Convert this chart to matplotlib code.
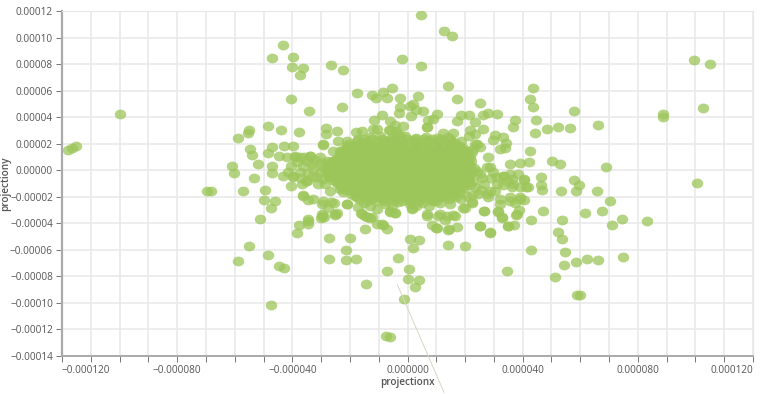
import matplotlib
matplotlib.use("Agg")
import matplotlib.pyplot as plt
from matplotlib.markers import MarkerStyle
from matplotlib.ticker import FuncFormatter
from matplotlib.transforms import Affine2D

# values, in units of 1e-5
left_points = [
    (-11.8, 1.5), (-11.67, 1.7), (-11.5, 1.8), (-9.97, 4.27), (-5.87, 2.41), (-5.53, 2.81), (-5.5, 3.0),
    (-4.83, 3.34), (-4.41, 3.0), (-3.78, 2.86), (-4.34, 9.42), (-4.72, 8.47), (-3.97, 8.54), (-4.0, 7.81),
    (-3.62, 7.74), (-3.75, 7.21), (-2.64, 7.96), (-2.24, 7.54), (-1.75, 5.85), (-4.05, 5.4), (-3.41, 4.45),
    (-2.26, 4.8), (-1.22, 5.68), (-1.09, 5.43), (-1.15, 3.82), (-2.83, 3.22), (-2.83, 2.71), (-2.46, 2.99),
    (-1.79, 2.89), (-1.59, 2.94), (-1.21, 3.07), (-1.07, 3.12), (-5.46, 1.61), (-5.4, 1.18), (-4.69, 1.78),
    (-4.85, 1.33), (-4.29, 1.81), (-3.99, 1.86), (-5.2, 0.5), (-6.1, 0.33), (-6.03, -0.2), (-5.32, -0.6),
    (-4.72, 0.35), (-4.7, -0.23), (-5.71, -1.58), (-6.95, -1.6), (-6.82, -1.56), (-4.95, -1.48), (-4.48, 1.1),
    (-4.2, 0.98), (-3.91, 0.98), (-4.34, -0.4), (-4.14, -0.15), (-3.97, -0.53), (-4.03, -1.18), (-3.68, -1.03),
    (-3.5, -0.78), (-3.39, 1.1), (-2.95, 1.93), (-3.62, -1.9), (-5.0, -2.26), (-4.6, -2.31), (-4.73, -2.81),
    (-5.12, -3.7), (-5.52, -5.7), (-5.87, -6.81), (-4.86, -6.36), (-4.47, -7.19), (-4.3, -7.34), (-4.73, -10.15),
    (-3.78, -4.15), (-3.84, -4.7), (-3.46, -3.69), (-3.44, -4.05), (-3.0, -3.57), (-2.9, -3.52), (-2.98, -3.27),
    (-2.52, -3.39), (-2.46, -3.24), (-2.71, -5.13), (-1.99, -5.13), (-2.13, -6.0), (-2.74, -6.71), (-2.14, -6.76),
    (-1.79, -6.68), (-1.43, -8.54), (-2.09, -2.51), (-1.63, -3.19), (-1.48, -3.44), (-1.3, -3.57), (-1.48, -4.4),
    (-1.05, -4.07), (-3.44, -2.26), (-2.98, -2.56), (-2.57, -2.44), (-2.75, -2.81),
]

right_top_points = [
    (0.46, 11.68), (1.27, 10.53), (1.56, 10.15), (-0.19, 8.37), (0.47, 7.86), (1.41, 6.33), (-0.55, 6.2),
    (-0.84, 5.9), (-0.7, 5.43), (1.72, 5.38), (2.51, 5.08), (4.36, 6.18), (4.24, 5.35), (4.37, 4.75), (5.8, 4.47),
    (6.61, 3.44), (8.86, 4.25), (8.88, 4.02), (10.26, 4.72), (9.96, 8.29), (10.5, 7.99), (10.06, -0.93),
    (4.48, 3.79), (3.74, 3.82), (3.66, 3.29), (4.44, 2.79), (4.85, 3.09), (5.23, 3.27), (5.64, 3.19), (3.1, 4.25),
    (2.78, 4.3), (2.63, 4.2), (2.15, 4.17), (1.86, 4.2), (1.72, 3.74), (2.36, 3.64), (1.01, 4.25), (0.9, 3.87),
    (0.7, 3.77), (0.68, 3.24), (0.37, 5.58), (-0.25, 5.43), (-0.26, 4.8), (-0.3, 4.35), (0.12, 4.12), (0.2, 5.0),
    (0.3, 4.55), (0.53, 4.5), (0.09, 4.87), (-0.89, 4.2), (-0.61, 3.74), (-0.43, 3.44), (-0.14, 3.37),
    (-0.63, 3.04), (-0.4, 2.94), (-0.26, 2.69), (2.61, 3.12), (2.17, 3.04), (2.15, 2.61), (3.04, 2.66),
    (1.59, 2.79), (1.22, 2.79), (3.33, 2.49), (3.42, 2.06), (2.98, 2.29), (3.22, 1.61), (3.39, 1.66), (2.79, 0.98),
    (2.4, 1.98), (2.52, 1.73), (2.23, 1.36), (4.26, 1.48), (4.23, 0.63), (3.91, 0.53), (3.56, 0.48), (5.02, 0.68),
    (5.28, 0.5), (6.91, 0.23), (4.63, -0.53), (4.65, -1.08), (4.68, -1.51), (5.8, -0.7), (5.96, -1.13),
    (5.85, -1.53), (5.33, -1.53), (6.59, -1.53), (7.02, -2.31), (4.06, -0.7), (3.85, -0.28), (4.11, -1.28),
    (3.62, -1.28), (3.35, -0.4), (3.62, -0.65), (3.33, -1.08), (3.04, -1.53), (3.91, -2.03), (2.87, 0.23),
    (2.52, -0.28), (1.83, 0.85), (1.71, 1.61), (2.75, -1.78), (3.55, -2.03),
]

right_bottom_points = [
    (4.71, -3.07), (5.35, -3.77), (4.28, -3.77), (6.16, -3.19), (6.75, -3.11), (7.45, -3.64), (8.31, -3.79),
    (7.1, -4.15), (5.23, -4.65), (5.36, -5.2), (4.3, -6.03), (5.46, -6.18), (7.5, -6.53), (6.62, -6.78),
    (6.23, -6.71), (5.85, -6.91), (5.44, -7.16), (5.14, -8.07), (5.9, -9.37), (6.0, -9.42), (3.47, -7.61),
    (2.65, -3.07), (3.16, -3.12), (3.29, -3.57), (3.7, -4.12), (3.49, -4.2), (2.53, -4.2), (2.86, -4.72),
    (1.71, -4.27), (1.44, -4.45), (0.98, -4.32), (0.84, -4.15), (0.1, -5.15), (0.39, -5.23), (0.19, -5.88),
    (1.41, -5.6), (2.0, -5.7), (-0.32, -6.58), (-0.71, -7.56), (0.05, -7.44), (0.0, -8.22), (0.39, -8.24),
    (0.26, -8.82), (-0.12, -9.67), (-0.75, -12.51), (-0.61, -12.54), (-0.84, -4.12), (-0.7, -4.4), (-0.61, -3.11),
    (-0.45, -3.2), (0.14, -2.81), (0.67, -3.32), (1.13, -3.32), (1.59, -3.37), (1.3, -3.77), (2.0, -2.81),
    (2.23, -2.44), (3.22, -2.56), (3.87, -3.01), (3.76, -3.39), (3.74, -2.44), (4.03, -2.26),
]

# the crowded middle, wings and fringe
fringe_points = [
    (-3.91, 1.11), (-3.39, 1.11), (-3.04, 0.98), (-3.62, 0.35), (-2.93, 0.23), (-3.97, -0.4), (-3.51, -0.78),
    (-2.93, -0.65), (-2.69, -1.53), (-3.62, -1.91), (-3.27, -2.16), (-2.93, -2.29), (-2.64, -2.41), (-2.98, -3.42),
    (-3.45, -3.79), (-2.52, -3.29), (-2.11, -2.54), (-2.35, -1.41), (-2.58, -0.4), (-2.35, 1.48), (-2.41, 2.24),
    (-2.93, 1.98), (-3.74, 0.98), (-4.03, 0.35), (-3.27, 0.1), (-3.16, -0.53), (-2.81, 0.73), (-2.58, 1.48),
    (-2.11, 2.24), (-1.88, 1.73), (-1.71, 2.36), (-1.42, 1.98), (-1.59, -3.29), (-1.42, -3.54), (-1.25, -3.49),
    (-0.9, -4.05), (-0.61, -3.17), (-0.43, -3.24), (-1.07, -2.91), (-1.71, -2.79), (0.14, -2.91), (0.67, -3.42),
    (1.42, -4.47), (1.01, -4.35), (1.07, -3.42), (1.36, -3.42), (1.65, -3.42), (1.48, -2.54), (1.94, -2.84),
    (2.23, -2.41), (2.64, -3.04), (2.52, -4.2), (2.87, -4.67), (3.5, -4.17), (3.8, -3.29), (3.27, -3.54),
    (3.16, -3.04), (3.91, -2.16), (3.56, -2.29), (3.22, -2.16), (2.81, -2.04), (2.46, -1.78), (2.06, -1.91),
    (1.01, -2.04), (0.84, -2.29), (2.4, -0.03), (2.75, 0.23), (2.98, -0.15), (2.29, -0.78), (2.64, -1.03),
    (3.1, -1.03), (2.87, -1.53), (3.33, -0.4), (3.56, -0.28), (3.45, -0.78), (3.68, -1.03), (4.03, -0.65),
    (3.91, -1.28), (4.2, -1.28), (2.17, 0.98), (2.06, 1.48), (2.35, 1.98), (1.94, 0.35), (2.06, -0.53),
    (2.26, 1.6), (2.35, 2.74), (0.67, 3.24), (-0.6, 3.0), (-0.38, 2.74),
    (-3.6, 1.0), (-3.2, 0.8), (-3.5, 0.7), (-3.85, 0.6), (-3.3, 0.45), (-3.0, 0.55), (-3.45, -0.2), (-3.05, -0.15),
    (-3.75, -0.1), (-3.3, -0.5), (-2.85, -1.0), (-3.1, -1.05), (-3.7, -0.6), (2.6, -0.6), (2.9, -0.6), (3.1, -0.5),
    (2.35, -1.3), (2.55, -1.5), (2.25, -1.9),
]

core_points = [
    (-1.31, 2.47), (-0.96, 2.55), (-0.52, 2.42), (-0.08, 2.58), (0.31, 2.44), (0.64, 2.52), (1.03, 2.4), (1.41, 2.49),
    (-2.02, 1.98), (-1.63, 2.06), (-1.2, 1.93), (-0.81, 2.1), (-0.37, 1.96), (0.06, 2.07), (0.47, 1.91), (0.88, 2.03),
    (1.27, 1.95), (1.66, 2.08), (-2.27, 1.44), (-1.89, 1.37), (-1.5, 1.5), (-1.08, 1.41), (-0.66, 1.52), (-0.24, 1.36),
    (0.17, 1.49), (0.58, 1.4), (1.02, 1.53), (1.43, 1.38), (1.82, 1.46), (-2.5, 0.87), (-2.11, 0.96), (-1.71, 0.81),
    (-1.33, 0.93), (-0.93, 0.84), (-0.51, 0.97), (-0.11, 0.82), (0.33, 0.94), (0.74, 0.86), (1.16, 0.98), (1.57, 0.83),
    (1.93, 0.91), (-2.63, 0.33), (-2.24, 0.27), (-1.85, 0.39), (-1.44, 0.25), (-1.03, 0.36), (-0.64, 0.22), (-0.21, 0.41),
    (0.2, 0.28), (0.62, 0.37), (1.04, 0.24), (1.44, 0.4), (1.82, 0.29), (2.16, 0.36), (-2.56, -0.24), (-2.17, -0.31),
    (-1.76, -0.17), (-1.36, -0.29), (-0.97, -0.2), (-0.55, -0.33), (-0.14, -0.18), (0.26, -0.3), (0.69, -0.22),
    (1.1, -0.34), (1.5, -0.19), (1.9, -0.28), (2.22, -0.23), (-2.44, -0.86), (-2.03, -0.79), (-1.62, -0.91),
    (-1.22, -0.76), (-0.82, -0.88), (-0.4, -0.81), (0.0, -0.93), (0.43, -0.77), (0.85, -0.87), (1.26, -0.79),
    (1.66, -0.92), (2.04, -0.83), (-2.1, -1.37), (-1.71, -1.45), (-1.29, -1.33), (-0.88, -1.47), (-0.47, -1.35),
    (-0.06, -1.43), (0.36, -1.31), (0.77, -1.46), (1.19, -1.36), (1.58, -1.44), (1.96, -1.34), (-1.84, -1.95),
    (-1.41, -1.88), (-1.0, -2.0), (-0.59, -1.9), (-0.18, -2.03), (0.24, -1.87), (0.63, -1.98), (1.29, -1.92),
    (1.68, -2.01), (-1.52, -2.46), (-0.78, -2.52), (-0.33, -2.41), (0.09, -2.55), (0.52, -2.44), (1.12, -2.5),
]

# further passes over the middle, one row of x values per y
core_row_y = [2.2, 1.7, 1.15, 0.6, 0.05, -0.52, -1.1, -1.65, -2.2, -2.7,
              2.35, 1.85, 1.55, 1.25, 0.95, 0.7, 0.4, 0.15, -0.1, -0.4, -0.7, -0.95, -1.25, -1.5, -1.8, -2.05, -2.35]
core_row_x = [
    [-1.75, -1.45, -1.02, -0.6, -0.18, 0.25, 0.68, 1.08, 1.5, 1.85],
    [-2.12, -1.73, -1.35, -0.97, -0.55, -0.15, 0.27, 0.7, 1.1, 1.5, 1.92],
    [-2.35, -2.0, -1.6, -1.2, -0.8, -0.42, -0.02, 0.38, 0.82, 1.22, 1.62, 2.0],
    [-2.7, -2.3, -1.9, -1.5, -1.15, -0.72, -0.32, 0.1, 0.5, 0.93, 1.33, 1.72, 2.08],
    [-2.8, -2.42, -2.02, -1.63, -1.22, -0.83, -0.4, 0.0, 0.42, 0.83, 1.26, 1.64, 2.02],
    [-2.72, -2.35, -1.95, -1.55, -1.15, -0.75, -0.35, 0.05, 0.48, 0.9, 1.3, 1.7, 2.1],
    [-2.3, -1.9, -1.42, -1.05, -0.65, -0.25, 0.17, 0.57, 0.98, 1.38, 1.78, 2.18],
    [-2.25, -1.9, -1.5, -1.1, -0.7, -0.27, 0.14, 0.56, 0.98, 1.4, 1.8],
    [-1.7, -1.22, -0.8, -0.4, 0.03, 0.43, 0.85, 1.45, 1.85],
    [-1.3, -0.55, 0.3, 0.75],
    [-1.5, -1.22, -0.9, -0.62, -0.31, -0.03, 0.27, 0.58, 0.86, 1.18, 1.47],
    [-2.1, -1.82, -1.5, -1.2, -0.92, -0.6, -0.33, -0.02, 0.3, 0.6, 0.88, 1.2, 1.5, 1.8],
    [-2.2, -1.92, -1.6, -1.31, -1.02, -0.7, -0.43, -0.11, 0.2, 0.48, 0.8, 1.1, 1.38, 1.7, 1.9],
    [-2.3, -2.02, -1.7, -1.41, -1.12, -0.8, -0.51, -0.22, 0.1, 0.41, 0.7, 1.0, 1.31, 1.6, 1.88, 2.0],
    [-2.4, -2.1, -1.82, -1.5, -1.22, -0.9, -0.62, -0.3, 0.0, 0.31, 0.6, 0.92, 1.2, 1.52, 1.8, 2.1],
    [-2.6, -2.3, -2.0, -1.7, -1.4, -1.1, -0.8, -0.5, -0.2, 0.12, 0.42, 0.71, 1.02, 1.3, 1.62, 1.92, 2.2],
    [-2.7, -2.4, -2.12, -1.81, -1.5, -1.21, -0.92, -0.6, -0.3, 0.0, 0.3, 0.62, 0.9, 1.21, 1.5, 1.8, 2.1],
    [-2.75, -2.45, -2.15, -1.85, -1.55, -1.25, -0.95, -0.65, -0.35, -0.05, 0.25, 0.55, 0.85, 1.15, 1.45, 1.75, 2.05, 2.3],
    [-2.8, -2.5, -2.2, -1.9, -1.6, -1.3, -1.0, -0.7, -0.4, -0.1, 0.2, 0.5, 0.8, 1.1, 1.4, 1.7, 2.0, 2.25],
    [-2.72, -2.42, -2.12, -1.82, -1.52, -1.22, -0.92, -0.62, -0.32, -0.02, 0.28, 0.58, 0.88, 1.18, 1.48, 1.78, 2.08],
    [-2.6, -2.3, -2.0, -1.7, -1.4, -1.1, -0.8, -0.5, -0.2, 0.1, 0.4, 0.7, 1.0, 1.3, 1.6, 1.9, 2.15],
    [-2.45, -2.15, -1.85, -1.55, -1.25, -0.95, -0.65, -0.35, -0.05, 0.25, 0.55, 0.85, 1.15, 1.45, 1.75, 2.05],
    [-2.3, -2.0, -1.7, -1.4, -1.1, -0.8, -0.5, -0.2, 0.1, 0.4, 0.7, 1.0, 1.3, 1.6, 1.9],
    [-2.15, -1.85, -1.55, -1.25, -0.95, -0.65, -0.35, -0.05, 0.25, 0.55, 0.85, 1.15, 1.45, 1.75],
    [-1.95, -1.65, -1.35, -1.05, -0.75, -0.45, -0.15, 0.15, 0.45, 0.75, 1.05, 1.35, 1.65],
    [-1.75, -1.45, -1.15, -0.85, -0.55, -0.25, 0.05, 0.35, 0.65, 1.2, 1.5],
    [-1.4, -1.1, -0.8, -0.5, -0.2, 0.1, 0.4, 1.0],
]

tick_x = [-12, -8, -4, 0, 4, 8, 12]

point_color = "#9cc659"
text_color = "#555555"
grid_color = "#e8e8e8"
axis_color = "#aaaaaa"

plt.rcParams["font.family"] = ["Open Sans", "DejaVu Sans"]

all_points = left_points + right_top_points + right_bottom_points + fringe_points + core_points
for row_y, row_x in zip(core_row_y, core_row_x):
    all_points = all_points + [(x, row_y) for x in row_x]
projection_x = [p[0] * 1e-5 for p in all_points]
projection_y = [p[1] * 1e-5 for p in all_points]

fig = plt.figure(figsize=(7.6, 3.94), dpi=100)
ax = fig.add_axes([62 / 760, 38 / 394, 691 / 760, 345 / 394])

# the dots in the picture are a little wider than tall
dot = MarkerStyle("o", transform=Affine2D().scale(1.17, 1))
ax.scatter(projection_x, projection_y, s=50, marker=dot, color=point_color, alpha=0.75, linewidths=0, zorder=3)

ax.set_xlim(-12e-5, 12e-5)
ax.set_ylim(-14e-5, 12e-5)

ax.set_xticks([i * 1e-5 for i in range(-12, 13)])
ax.set_xticklabels(["\u2212%.6f" % (abs(i) * 1e-5) if i < 0 and i in tick_x else "%.6f" % (i * 1e-5) if i in tick_x else ""
                    for i in range(-12, 13)])
ax.set_yticks([i * 1e-5 for i in range(-14, 13, 2)])
ax.yaxis.set_major_formatter(FuncFormatter(lambda v, pos: ("%.5f" % v).replace("-", "\u2212")))

labels = ax.get_xticklabels()
labels[0].set_ha("left")
labels[-1].set_ha("right")

ax.grid(True, color=grid_color, linewidth=1.1, zorder=0)
ax.set_axisbelow(True)
ax.tick_params(axis="both", labelsize=7.2, labelcolor=text_color, color="#777777", width=0.7, length=4, pad=2.5)

ax.spines["top"].set_color(grid_color)
ax.spines["right"].set_color(grid_color)
ax.spines["left"].set_color(axis_color)
ax.spines["left"].set_linewidth(1.6)
ax.spines["bottom"].set_color(axis_color)
ax.spines["bottom"].set_linewidth(1.4)

ax.set_xlabel("projectionx", fontsize=7.2, color=text_color, fontweight="semibold", labelpad=0.5)
ax.set_ylabel("projectiony", fontsize=7.2, color=text_color, fontweight="semibold")
ax.yaxis.set_label_coords(-0.074, 0.5)

# stray thin line that runs out of the plot under the centre
ax.plot([-0.35e-5, 1.27e-5], [-8.64e-5, -16.75e-5], color="#d9d6c4", linewidth=0.7, clip_on=False, zorder=4)

fig.savefig("out.png", dpi=100)
